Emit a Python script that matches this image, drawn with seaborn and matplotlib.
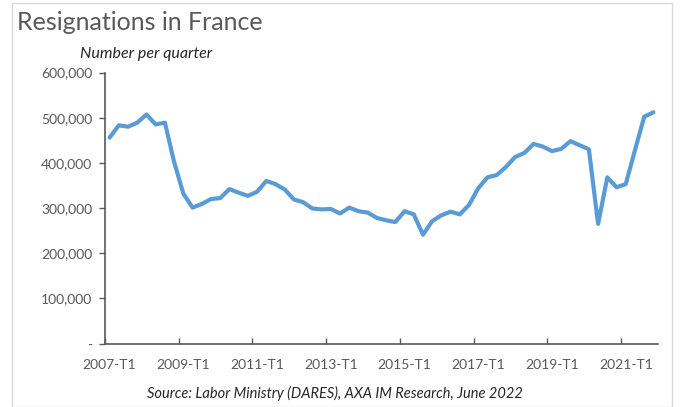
import matplotlib
matplotlib.use("Agg")
import matplotlib.pyplot as plt
from matplotlib.patches import Rectangle
import seaborn as sns
import pandas as pd
import numpy as np

years = list(range(2007, 2022))
quarters = [f"{y}-T{q}" for y in years for q in range(1, 5)]
resignations = [
    456000, 483000, 480000, 489000, 507000, 485000, 489000, 402000,
    332000, 301000, 309000, 320000, 322000, 342000, 334000, 327000,
    336000, 360000, 353000, 341000, 319000, 313000, 299000, 297000,
    298000, 288000, 301000, 293000, 290000, 278000, 273000, 269000,
    293000, 286000, 241000, 271000, 284000, 292000, 286000, 307000,
    344000, 368000, 373000, 391000, 413000, 422000, 442000, 436000,
    426000, 431000, 448000, 439000, 430000, 265000, 368000, 346000,
    353000, 428000, 502000, 512000,
]
ytick_values = [0, 100000, 200000, 300000, 400000, 500000, 600000]

df = pd.DataFrame({"idx": np.arange(len(quarters)), "quarter": quarters,
                   "value": resignations})

sns.set_theme(style="white")
plt.rcParams["font.family"] = ["Lato", "DejaVu Sans"]

W, H = 689, 407
fig = plt.figure(figsize=(W / 100, H / 100), dpi=100)
ax = fig.add_axes([105 / W, 1 - 343.6 / H, (658 - 105) / W, (343.6 - 72.5) / H])

sns.lineplot(data=df, x="idx", y="value", ax=ax, color="#5B9BD5",
             linewidth=3.0, solid_joinstyle="round", solid_capstyle="round")

ax.set_xlim(-0.5, len(quarters) - 0.5)
ax.set_ylim(0, 600000)
ax.set_xlabel("")
ax.set_ylabel("")

grey = "#595959"
# y axis
ax.set_yticks(ytick_values)
ax.set_yticklabels(["-" if v == 0 else f"{v:,}" for v in ytick_values],
                   fontsize=10, color=grey)
ax.tick_params(axis="y", direction="out", length=4, width=1, color=grey, pad=5, left=True)

# x axis: tick marks at category boundaries, labels centered on categories
label_pos = list(range(0, len(quarters), 8))
ax.set_xticks([p - 0.5 for p in label_pos])
ax.set_xticklabels([])
ax.tick_params(axis="x", which="major", direction="in", length=4, width=1,
               color=grey, bottom=True)
ax.set_xticks(label_pos, minor=True)
ax.set_xticklabels([quarters[p] for p in label_pos], minor=True,
                   fontsize=10, color=grey)
ax.tick_params(axis="x", which="minor", length=0, pad=11)

for s in ["top", "right"]:
    ax.spines[s].set_visible(False)
ax.spines["left"].set_color(grey)
ax.spines["left"].set_linewidth(1.2)
ax.spines["bottom"].set_color(grey)
ax.spines["bottom"].set_linewidth(1.2)

fig.text(17 / W, 1 - 23 / H, "Resignations in France", fontsize=18,
         fontweight="normal", color=grey, va="center", ha="left")
fig.text(80 / W, 1 - 54 / H, "Number per quarter", fontsize=11.5,
         style="italic", color="#262626", va="center", ha="left")
fig.text(335 / W, 1 - 393 / H,
         "Source: Labor Ministry (DARES), AXA IM Research, June 2022",
         fontsize=10.5, style="italic", color="#262626", va="center", ha="center")

fig.patches.append(Rectangle((12 / W, 0), (672 - 12) / W, 1 - 3 / H,
                             transform=fig.transFigure, fill=False,
                             edgecolor="#D9D9D9", linewidth=1))

fig.savefig("out.png", dpi=100)
